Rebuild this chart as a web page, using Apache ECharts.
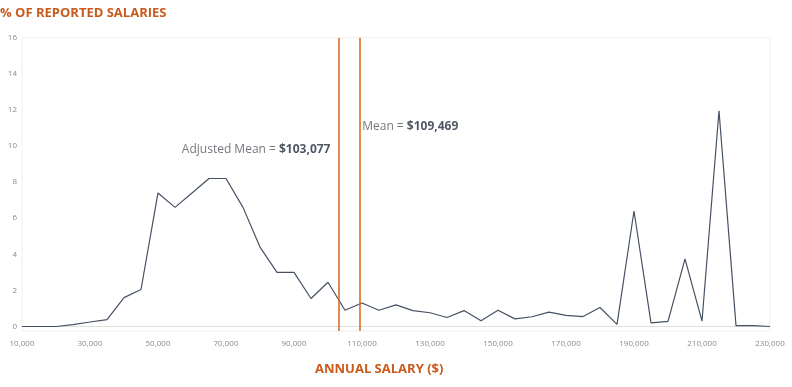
<!DOCTYPE html>
<html>
<head>
<meta charset="utf-8">
<script src="https://cdn.jsdelivr.net/npm/echarts@6/dist/echarts.min.js"></script>
<style>
html,body{margin:0;padding:0;background:#fff;}
#c{width:792px;height:387px;}
</style>
</head>
<body>
<div id="c"></div>
<script>
// Salary bins ($) and % of reported salaries
const salaries = [10000,15000,20000,25000,30000,35000,40000,45000,50000,55000,60000,65000,70000,75000,80000,85000,90000,95000,100000,105000,110000,115000,120000,125000,130000,135000,140000,145000,150000,155000,160000,165000,170000,175000,180000,185000,190000,195000,200000,205000,210000,215000,220000,225000,230000];
const percents = [0,0,0,0.1,0.25,0.38,1.6,2.05,7.4,6.6,7.4,8.2,8.2,6.6,4.4,3.0,3.0,1.55,2.45,0.9,1.3,0.9,1.2,0.88,0.76,0.5,0.88,0.32,0.9,0.42,0.54,0.8,0.62,0.55,1.05,0.12,6.4,0.2,0.28,3.75,0.3,11.95,0.05,0.05,0];
const yTicks = [0,2,4,6,8,10,12,14,16];
const adjustedMean = 103077;
const mean = 109469;

const chart = echarts.init(document.getElementById('c'));
const fmt = v => v.toLocaleString('en-US');
const orange = '#c95a1c';
const lineOrange = '#d4702a';

chart.setOption({
  animation: false,
  textStyle: { fontFamily: 'Open Sans' },
  title: [
    { text: '% OF REPORTED SALARIES', left: 0, top: 7, padding: 0,
      textStyle: { color: orange, fontSize: 13, fontWeight: 'bold', fontFamily: 'Open Sans' } },
    { text: 'ANNUAL SALARY ($)', left: 315, top: 363, padding: 0,
      textStyle: { color: orange, fontSize: 13, fontWeight: 'bold', fontFamily: 'Open Sans' } }
  ],
  grid: { left: 22, right: 22, top: 37.7, bottom: 56, show: true, borderColor: '#efefef', borderWidth: 1 },
  xAxis: {
    type: 'value', min: 10000, max: 230000, interval: 20000,
    axisLine: { show: true, lineStyle: { color: '#d8d8d8', type: 'dotted' } },
    axisTick: { show: false },
    splitLine: { show: false },
    axisLabel: { color: '#8a8a8a', fontSize: 8, margin: 9, formatter: v => fmt(v) }
  },
  yAxis: {
    type: 'value', min: -0.25, max: 16,
    axisLine: { show: false },
    axisTick: { show: false },
    splitLine: { show: false },
    axisLabel: { color: '#8a8a8a', fontSize: 8, margin: 5, customValues: yTicks }
  },
  series: [
    {
      type: 'line',
      data: salaries.map((s, i) => [s, percents[i]]),
      symbol: 'none',
      lineStyle: { color: '#455163', width: 1.2 },
      z: 3,
      markLine: {
        silent: true, symbol: 'none',
        label: { show: false },
        lineStyle: { color: lineOrange, width: 1.6, type: 'solid' },
        data: [{ xAxis: adjustedMean }, { xAxis: mean }]
      }
    },
    {
      type: 'scatter', symbolSize: 0, silent: true,
      data: [[adjustedMean, 9.78]],
      label: {
        show: true, position: 'left', distance: 8,
        formatter: '{a|Adjusted Mean = }{b|$' + fmt(adjustedMean) + '}',
        rich: {
          a: { color: '#50555e', fontSize: 12, fontFamily: 'Open Sans' },
          b: { color: '#1f2b3d', fontSize: 12, fontWeight: 'bold', fontFamily: 'Open Sans' }
        }
      }
    },
    {
      type: 'scatter', symbolSize: 0, silent: true,
      data: [[mean, 11.1]],
      label: {
        show: true, position: 'right', distance: 2,
        formatter: '{a|Mean = }{b|$' + fmt(mean) + '}',
        rich: {
          a: { color: '#50555e', fontSize: 12, fontFamily: 'Open Sans' },
          b: { color: '#1f2b3d', fontSize: 12, fontWeight: 'bold', fontFamily: 'Open Sans' }
        }
      }
    }
  ]
});
</script>
</body>
</html>
